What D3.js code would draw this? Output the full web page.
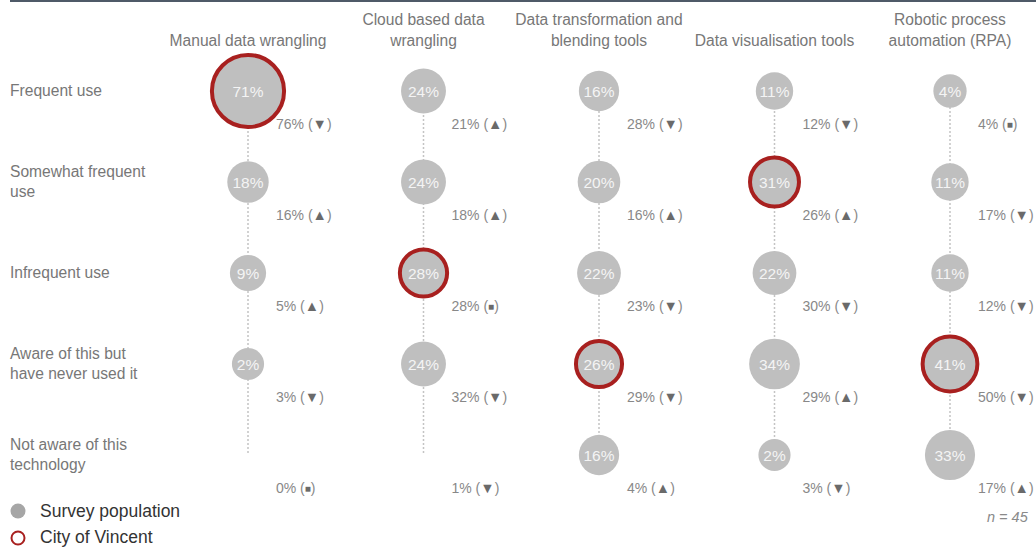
<!DOCTYPE html>
<html>
<head>
<meta charset="utf-8">
<script src="https://cdn.jsdelivr.net/npm/d3@7"></script>
<style>
  html, body { margin: 0; padding: 0; background: #fff; }
  svg { display: block; font-family: "Liberation Sans", Arial, sans-serif; }
</style>
</head>
<body>
<svg id="chart" width="1036" height="547"></svg>
<script>
// ---- data ----
const technologies = [
  ["Manual data wrangling"],
  ["Cloud based data", "wrangling"],
  ["Data transformation and", "blending tools"],
  ["Data visualisation tools"],
  ["Robotic process", "automation (RPA)"]
];
const usageLevels = [
  ["Frequent use"],
  ["Somewhat frequent", "use"],
  ["Infrequent use"],
  ["Aware of this but", "have never used it"],
  ["Not aware of this", "technology"]
];
// circle values (rows = usage level, one value per technology)
const frequentUse      = [71, 24, 16, 11, 4];
const somewhatFrequent = [18, 24, 20, 31, 11];
const infrequentUse    = [9, 28, 22, 22, 11];
const awareNeverUsed   = [2, 24, 26, 34, 41];
const notAware         = [0, 0, 16, 2, 33];
// comparison labels
const cmpFrequent   = [76, 21, 28, 12, 4];
const cmpSomewhat   = [16, 18, 16, 26, 17];
const cmpInfrequent = [5, 28, 23, 30, 12];
const cmpAware      = [3, 32, 29, 29, 50];
const cmpNotAware   = [0, 1, 4, 3, 17];
// trend markers: "down", "up", "same"
const trendFrequent   = ["down", "up", "down", "down", "same"];
const trendSomewhat   = ["up", "up", "up", "up", "down"];
const trendInfrequent = ["up", "same", "down", "down", "down"];
const trendAware      = ["down", "down", "down", "up", "down"];
const trendNotAware   = ["same", "down", "up", "down", "up"];
// City of Vincent response (row index per technology)
const cityOfVincent = [0, 2, 3, 1, 3];
const sampleSize = "n = 45";

const values = [frequentUse, somewhatFrequent, infrequentUse, awareNeverUsed, notAware];
const compare = [cmpFrequent, cmpSomewhat, cmpInfrequent, cmpAware, cmpNotAware];
const trends = [trendFrequent, trendSomewhat, trendInfrequent, trendAware, trendNotAware];
const symbol = { down: "\u25BC", up: "\u25B2", same: "\u25A0" };

// ---- layout ----
const svg = d3.select("#chart");
const x = d3.scalePoint().domain(d3.range(technologies.length)).range([248, 950]);
const y = d3.scalePoint().domain(d3.range(usageLevels.length)).range([91, 455]);
const r = d3.scaleLinear().domain([0, 100]).range([15.5, 44.5]);

const grey = "#bfbfbf";
const red = "#a8201f";
const textGrey = "#777";

// top rule
svg.append("line").attr("x1", 10).attr("x2", 1036).attr("y1", 1).attr("y2", 1)
  .attr("stroke", "#4f5a68").attr("stroke-width", 2);

// column headers
technologies.forEach((lines, i) => {
  const t = svg.append("text").attr("text-anchor", "middle").attr("fill", textGrey)
    .attr("font-size", 15.6);
  const base = lines.length === 1 ? 46 : 25;
  lines.forEach((l, k) => t.append("tspan").attr("x", x(i)).attr("y", base + k * 20.5).text(l));
});

// row labels
usageLevels.forEach((lines, j) => {
  const t = svg.append("text").attr("fill", textGrey).attr("font-size", 15.6);
  const base = lines.length === 1 ? y(j) + 5 : y(j) - 5;
  lines.forEach((l, k) => t.append("tspan").attr("x", 10).attr("y", base + k * 20).text(l));
});

// dotted connectors
technologies.forEach((_, i) => {
  svg.append("line").attr("x1", x(i)).attr("x2", x(i))
    .attr("y1", y(0)).attr("y2", y(usageLevels.length - 1) - 2)
    .attr("stroke", "#c4c4c4").attr("stroke-width", 1.5).attr("stroke-dasharray", "2,2");
});

// circles + labels
values.forEach((row, j) => {
  row.forEach((v, i) => {
    const cx = x(i), cy = y(j);
    if (v > 0) {
      svg.append("circle").attr("cx", cx).attr("cy", cy).attr("r", r(v))
        .attr("fill", grey);
      if (cityOfVincent[i] === j) {
        svg.append("circle").attr("cx", cx).attr("cy", cy).attr("r", r(v))
          .attr("fill", "none").attr("stroke", red).attr("stroke-width", 4);
      }
      svg.append("text").attr("x", cx).attr("y", cy + 5.5).attr("text-anchor", "middle")
        .attr("fill", "#f4f4f4").attr("font-size", 15.5).text(v + "%");
    }
    const t = svg.append("text").attr("x", cx + 28).attr("y", cy + 38)
      .attr("fill", "#888").attr("font-size", 14);
    t.append("tspan").text(compare[j][i] + "% (");
    const tr = trends[j][i];
    t.append("tspan").attr("fill", "#6a6a6a")
      .attr("font-size", tr === "same" ? 10 : 14.5)
      .attr("dy", tr === "same" ? -1 : 0)
      .text(symbol[tr]);
    t.append("tspan").attr("dy", tr === "same" ? 1 : 0).text(")");
  });
});

// legend
svg.append("circle").attr("cx", 18).attr("cy", 511).attr("r", 7.5).attr("fill", "#a6a6a6");
svg.append("text").attr("x", 40).attr("y", 517).attr("fill", "#333").attr("font-size", 17.5)
  .text("Survey population");
svg.append("circle").attr("cx", 18).attr("cy", 538).attr("r", 6.5).attr("fill", "none")
  .attr("stroke", red).attr("stroke-width", 2);
svg.append("text").attr("x", 40).attr("y", 543).attr("fill", "#333").attr("font-size", 17.5)
  .text("City of Vincent");

// sample size
svg.append("text").attr("x", 987).attr("y", 522).attr("fill", "#8a8a8a")
  .attr("font-size", 14.5).attr("font-style", "italic").text(sampleSize);
</script>
</body>
</html>
